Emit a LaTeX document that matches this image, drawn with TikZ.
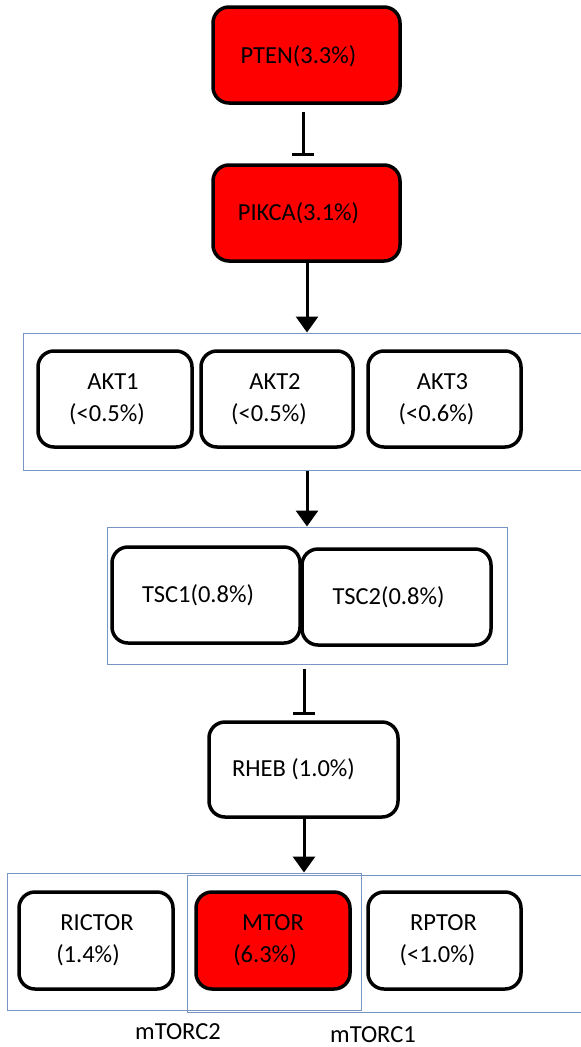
\documentclass[tikz,border=0pt]{standalone}
\usepackage{fontspec}
\setmainfont{Carlito}
\usetikzlibrary{arrows.meta}
\definecolor{grpblue}{RGB}{120,150,195}
\newcommand{\pad}[1]{\hspace*{#1pt}}
\begin{document}
\begin{tikzpicture}[x=1pt,y=-1pt,
    gene/.style={draw=black,line width=3.5pt,rounded corners=16pt,fill=white,align=center,inner sep=0pt,
        font=\fontsize{24.5}{32}\selectfont},
    hit/.style={gene,fill=red},
    grp/.style={draw=grpblue,line width=1pt,inner sep=0pt},
    act/.style={line width=3pt,-{Triangle[width=22pt,length=16pt]}},
    inh/.style={line width=3pt,-{Bar[width=22pt]}}]
                \useasboundingbox (0,0) rectangle (581,1047);
                % group boxes
                \node[grp,minimum width=560pt,minimum height=137pt] (akt) at (303,401.5) {};
                \node[grp,minimum width=400pt,minimum height=137pt] (tsc) at (307,595.5) {};
                \node[grp,minimum width=354pt,minimum height=137pt] (mtorcii) at (184,941.5) {};
                \node[grp,minimum width=396pt,minimum height=137pt] (mtorci) at (385,943.5) {};
                % genes
                \node[hit,minimum width=187pt,minimum height=96pt,text depth=-6pt] (pten) at (306.5,55) {PTEN(3.3\%)\pad{16}};
                \node[hit,minimum width=187pt,minimum height=96pt] (pikca) at (306.5,213) {PIKCA(3.1\%)\pad{16}};
                \node[gene,minimum width=154pt,minimum height=96pt] (akti) at (115,399) {AKT1\pad{4}\\(<0.5\%)\pad{16}};
                \node[gene,minimum width=152pt,minimum height=96pt] (aktii) at (277,399) {AKT2\pad{4}\\(<0.5\%)\pad{16}};
                \node[gene,minimum width=153pt,minimum height=96pt] (aktiii) at (444.5,399) {AKT3\pad{4}\\(<0.6\%)\pad{16}};
                \node[gene,minimum width=188pt,minimum height=96pt] (tsci) at (206,595) {TSC1(0.8\%)\pad{16}};
                \node[gene,minimum width=189pt,minimum height=96pt] (tscii) at (396.5,597) {TSC2(0.8\%)\pad{16}};
                \node[gene,minimum width=189pt,minimum height=95pt] (rheb) at (303.5,769.5) {RHEB (1.0\%)\pad{20}};
                \node[gene,minimum width=154pt,minimum height=97pt] (rictor) at (96,940.5) {\pad{2}RICTOR\\(1.4\%)\pad{16}};
                \node[hit,minimum width=154pt,minimum height=97pt] (mtor) at (273,940.5) {MTOR\\(6.3\%)\pad{16}};
                \node[gene,minimum width=153pt,minimum height=97pt] (rptor) at (444.5,940.5) {RPTOR\pad{2}\\(<1.0\%)\pad{14}};
                \node[inner sep=0pt,font=\fontsize{24.5}{28}\selectfont] (lblii) at (178,1032) {mTORC2};
                \node[inner sep=0pt,font=\fontsize{24.5}{28}\selectfont] (lbli) at (373,1035) {mTORC1};
                % connectors
                \draw[inh,shorten <=7pt,shorten >=7pt] ([xshift=-3.5pt]pten.south) -- ([xshift=-3.5pt]pikca.north);
                \draw[act] ([xshift=0.5pt]pikca.south) -- ([xshift=0.5pt]pikca.south |- akt.north);
                \draw[act] ([xshift=4pt]akt.south) -- ([xshift=4pt]akt.south |- tsc.north);
                \draw[inh,shorten <=4pt,shorten >=5pt] ([xshift=-3pt]tsc.south) -- ([xshift=-3pt]tsc.south |- rheb.north);
                \draw[act] ([xshift=0.5pt]rheb.south) -- ([xshift=0.5pt]rheb.south |- mtorcii.north);
            \end{tikzpicture}
\end{document}
